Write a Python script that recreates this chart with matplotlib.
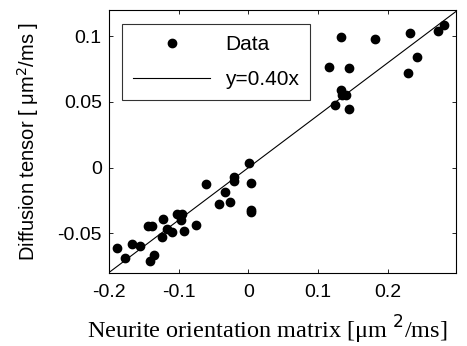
import numpy as np
import matplotlib.pyplot as plt

# points
x_data = [-0.188, -0.177, -0.167, -0.156, -0.144, -0.138, -0.141, -0.135,
          -0.122, -0.124, -0.116, -0.110, -0.102, -0.095, -0.096, -0.093,
          -0.075, -0.061, -0.042, -0.033, -0.027, -0.021, -0.021, 0.001,
          0.004, 0.004, 0.004, 0.116, 0.124, 0.132, 0.132, 0.134, 0.140,
          0.144, 0.144, 0.181, 0.229, 0.232, 0.241, 0.272, 0.280]
y_data = [-0.0614, -0.069, -0.058, -0.060, -0.0447, -0.0447, -0.0708, -0.0665,
          -0.0388, -0.0525, -0.0464, -0.0492, -0.035, -0.035, -0.040, -0.048,
          -0.0437, -0.0127, -0.0277, -0.0188, -0.0261, -0.0069, -0.0102, 0.0036,
          -0.0114, -0.0322, -0.034, 0.0769, 0.048, 0.0997, 0.0591, 0.0553, 0.0553,
          0.0756, 0.0447, 0.0982, 0.0723, 0.1028, 0.0845, 0.1043, 0.1089]
slope = 0.40

x_ticks = [-0.2, -0.1, 0, 0.1, 0.2]
x_tick_labels = ['-0.2', '-0.1', '0', '0.1', '0.2']
y_ticks = [-0.05, 0, 0.05, 0.1]
y_tick_labels = ['-0.05', '0', '0.05', '0.1']

plt.rcParams['font.family'] = ['Liberation Sans', 'DejaVu Sans']

fig = plt.figure(figsize=(4.67, 3.46), dpi=100)
ax = fig.add_axes([0.233, 0.212, 0.743, 0.759])

ax.plot(x_data, y_data, 'o', color='black', markersize=6, label='Data')
xs = np.linspace(-0.2, 0.3, 50)
ax.plot(xs, slope * xs, '-', color='black', linewidth=0.8, label='y=0.40x')

ax.set_xlim(-0.2, 0.297)
ax.set_ylim(-0.08, 0.12)
ax.set_xticks(x_ticks)
ax.set_xticklabels(x_tick_labels)
ax.set_yticks(y_ticks)
ax.set_yticklabels(y_tick_labels)
ax.tick_params(direction='in', top=True, right=True, labelsize=14, length=3, width=0.6)
ax.tick_params(axis='x', pad=8)
ax.tick_params(axis='y', pad=5)
for s in ax.spines.values():
    s.set_linewidth(0.8)

ax.set_ylabel('Diffusion tensor [ \u03bcm$^2$/ms ]', fontsize=14.5, labelpad=12)
ax.set_xlabel('Neurite orientation matrix [\u03bcm $^2$/ms]', fontsize=17.5,
              family='Liberation Serif')
ax.xaxis.set_label_coords(0.457, -0.155)

leg = ax.legend(loc='upper left', bbox_to_anchor=(0.037, 0.947), fontsize=15,
                frameon=True, fancybox=False, edgecolor='black',
                handlelength=3.7, borderpad=0.55, labelspacing=0.75, handletextpad=0.7,
                borderaxespad=0)
leg.get_frame().set_linewidth(0.8)

fig.savefig('out.png', dpi=100)
